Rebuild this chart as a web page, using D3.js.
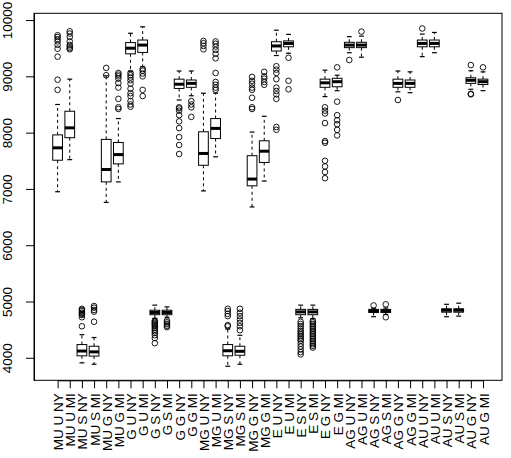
<!DOCTYPE html>
<html>
<head>
<meta charset="utf-8">
<script src="https://cdn.jsdelivr.net/npm/d3@7"></script>
<style>
  body { margin: 0; background: #fff; }
  svg { display: block; font-family: "Liberation Sans", Arial, sans-serif; }
  .box { fill: #fff; stroke: #000; stroke-width: 1; }
  .whisker { stroke: #000; stroke-width: 1; stroke-dasharray: 3,3; }
  .staple { stroke: #000; stroke-width: 1.2; }
  .median { stroke: #000; stroke-width: 3; }
  .outlier { fill: none; stroke: #000; stroke-width: 0.9; }
</style>
</head>
<body>
<script>
var width = 511,
    height = 458;

var categories = [
    'MU U NY', 'MU U MI', 'MU S NY', 'MU S MI', 'MU G NY', 'MU G MI',
    'G U NY', 'G U MI', 'G S NY', 'G S MI', 'G G NY', 'G G MI',
    'MG U NY', 'MG U MI', 'MG S NY', 'MG S MI', 'MG G NY', 'MG G MI',
    'E U NY', 'E U MI', 'E S NY', 'E S MI', 'E G NY', 'E G MI',
    'AG U NY', 'AG U MI', 'AG S NY', 'AG S MI', 'AG G NY', 'AG G MI',
    'AU U NY', 'AU U MI', 'AU S NY', 'AU S MI', 'AU G NY', 'AU G MI'
];

// five-number summaries
var lower = [6950, 7520, 3910, 3885, 6760, 7125, 9090, 9170, 4700, 4720, 8580, 8655,
             6965, 7570, 3850, 3885, 6680, 7140, 9370, 9410, 4710, 4695, 8640, 8745,
             9420, 9340, 4730, 4770, 8725, 8710, 9350, 9420, 4730, 4740, 8770, 8745];
var q1 = [7510, 7910, 4035, 4030, 7125, 7445, 9400, 9425, 4765, 4765, 8785, 8805,
          7420, 7895, 4035, 4045, 7055, 7470, 9450, 9525, 4765, 4765, 8805, 8815,
          9510, 9510, 4805, 4805, 8805, 8805, 9525, 9525, 4810, 4810, 8875, 8855];
var medians = [7730, 8085, 4120, 4105, 7345, 7610, 9500, 9555, 4805, 4805, 8860, 8875,
               7630, 8075, 4125, 4115, 7175, 7670, 9540, 9585, 4815, 4815, 8885, 8905,
               9555, 9555, 4830, 4830, 8875, 8875, 9585, 9585, 4845, 4845, 8930, 8905];
var q3 = [7960, 8380, 4235, 4205, 7880, 7825, 9600, 9645, 4845, 4845, 8950, 8935,
          8015, 8250, 4235, 4205, 7590, 7855, 9615, 9630, 4860, 4860, 8950, 8965,
          9605, 9605, 4860, 4860, 8950, 8935, 9645, 9645, 4870, 4870, 8975, 8950];
var upper = [8500, 8950, 4410, 4360, 9010, 8250, 9765, 9880, 4935, 4905, 9095, 9095,
             8700, 8700, 4510, 4400, 8010, 8290, 9820, 9745, 4935, 4935, 9110, 9020,
             9705, 9715, 4880, 4885, 9095, 9080, 9750, 9780, 4950, 4970, 9100, 9080];

var outliers = [
    [9730, 9700, 9660, 9620, 9560, 9490, 9350, 8940, 8760],
    [9800, 9760, 9700, 9620, 9560, 9530, 9500, 9480],
    [4870, 4850, 4830, 4800, 4780, 4760, 4720, 4560],
    [4920, 4890, 4850, 4820, 4640],
    [9150, 9020],
    [9060, 9030, 9000, 8960, 8880, 8800, 8600, 8450, 8420],
    [9060, 9020, 8980, 8930, 8870, 8780, 8700, 8650, 8560, 8500, 8460],
    [9130, 9100, 9050, 9000, 8760, 8650],
    [4660, 4640, 4620, 4600, 4580, 4560, 4530, 4500, 4470, 4440, 4400, 4350, 4260],
    [4660, 4630, 4600, 4570, 4545],
    [8450, 8430, 8390, 8310, 8200, 8080, 7920, 7780, 7620],
    [8560, 8500, 8450, 8280],
    [9630, 9590, 9540, 9480],
    [9620, 9580, 9530, 9470, 9400, 9320, 9060, 8900, 8850, 8800, 8760],
    [4870, 4830, 4780, 4740, 4580, 4560],
    [4870, 4800, 4740, 4680, 4620, 4560, 4490],
    [8990, 8920, 8870, 8800, 8760, 8620, 8450, 8420],
    [9080, 9000, 8960, 8900, 8850],
    [9180, 9120, 9060, 8950, 8800, 8740, 8680, 8600, 8100, 8050],
    [9330, 8920, 8770],
    [4640, 4600, 4560, 4520, 4480, 4450, 4420, 4390, 4360, 4330, 4300, 4250, 4200, 4150, 4100, 4060],
    [4660, 4630, 4600, 4570, 4540, 4510, 4480, 4450, 4420, 4390, 4360, 4330, 4300, 4270, 4240, 4210, 4180],
    [8450, 8390, 8340, 8170, 7850, 7820, 7500, 7400, 7300, 7190],
    [9160, 8550, 8310, 8220, 8150, 8050, 7950],
    [9290],
    [9795],
    [4930],
    [4950, 4720],
    [8580],
    [],
    [9850],
    [],
    [],
    [],
    [9200, 8690, 8680],
    [9160]
];

var yTicks = [4000, 5000, 6000, 7000, 8000, 9000, 10000];

var plot = {left: 34, right: 502, top: 13.3, bottom: 380.3};

var svg = d3.select('body')
    .append('svg')
    .attr('width', width)
    .attr('height', height);

var n = categories.length;
// box centres: first and last group positions
var x = d3.scaleLinear()
    .domain([1, n])
    .range([57.6, 483]);

var y = d3.scaleLinear()
    .domain([3600, 10120])
    .range([plot.bottom, plot.top]);

var unit = x(2) - x(1);
var halfBox = 0.4 * unit,
    halfStaple = 0.2 * unit;

var stats = categories.map((c, i) => ({
    name: c,
    pos: i + 1,
    lo: lower[i],
    q1: q1[i],
    med: medians[i],
    q3: q3[i],
    hi: upper[i],
    out: outliers[i]
}));

var g = svg.append('g').attr('class', 'boxes')
    .selectAll('g')
    .data(stats).enter()
    .append('g')
    .attr('transform', d => 'translate(' + x(d.pos) + ',0)');

// whiskers
g.append('line').attr('class', 'whisker')
    .attr('x1', 0).attr('x2', 0)
    .attr('y1', d => y(d.q3)).attr('y2', d => y(d.hi));
g.append('line').attr('class', 'whisker')
    .attr('x1', 0).attr('x2', 0)
    .attr('y1', d => y(d.q1)).attr('y2', d => y(d.lo));

// staples
g.append('line').attr('class', 'staple')
    .attr('x1', -halfStaple).attr('x2', halfStaple)
    .attr('y1', d => y(d.hi)).attr('y2', d => y(d.hi));
g.append('line').attr('class', 'staple')
    .attr('x1', -halfStaple).attr('x2', halfStaple)
    .attr('y1', d => y(d.lo)).attr('y2', d => y(d.lo));

g.append('rect').attr('class', 'box')
    .attr('x', -halfBox)
    .attr('width', 2 * halfBox)
    .attr('y', d => y(d.q3))
    .attr('height', d => y(d.q1) - y(d.q3));

g.append('line').attr('class', 'median')
    .attr('x1', -halfBox).attr('x2', halfBox)
    .attr('y1', d => y(d.med)).attr('y2', d => y(d.med));

g.selectAll('circle')
    .data(d => d.out).enter()
    .append('circle')
    .attr('class', 'outlier')
    .attr('cx', 0)
    .attr('cy', v => y(v))
    .attr('r', 2.8);

// frame
svg.append('rect')
    .attr('x', plot.left).attr('y', plot.top)
    .attr('width', plot.right - plot.left)
    .attr('height', plot.bottom - plot.top)
    .attr('fill', 'none')
    .attr('stroke', '#000')
    .attr('stroke-width', 1);

// y axis
var yAxis = svg.append('g')
    .attr('transform', 'translate(' + plot.left + ',0)')
    .call(d3.axisLeft(y).tickValues(yTicks).tickSize(8).tickSizeOuter(0).tickFormat(d3.format('d')));

yAxis.selectAll('text')
    .attr('x', null).attr('dy', null)
    .attr('text-anchor', 'middle')
    .attr('transform', 'translate(-22,0) rotate(-90)');

// x axis
var xAxis = svg.append('g')
    .attr('transform', 'translate(0,' + plot.bottom + ')')
    .call(d3.axisBottom(x)
        .tickValues(d3.range(1, n + 1))
        .tickSize(8)
        .tickSizeOuter(0)
        .tickFormat(i => categories[i - 1]));

xAxis.selectAll('text')
    .attr('y', null).attr('dy', null)
    .attr('text-anchor', 'end')
    .attr('transform', 'translate(5,13) rotate(-90)');

svg.selectAll('.tick text')
    .attr('fill', '#000')
    .style('font-size', '13.5px')
    .style('font-family', '"Liberation Sans", Arial, sans-serif');
svg.selectAll('.domain, .tick line').attr('stroke', '#000');
</script>
</body>
</html>
